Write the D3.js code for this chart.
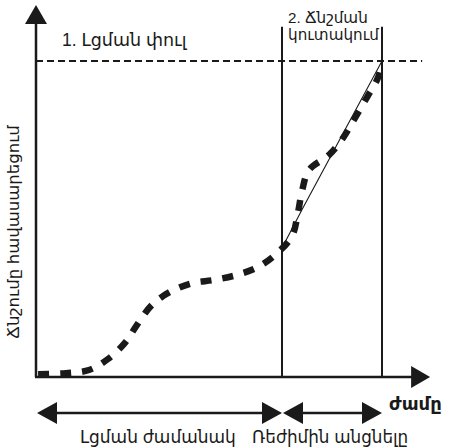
<!DOCTYPE html>
<html>
<head>
<meta charset="utf-8">
<script src="https://cdn.jsdelivr.net/npm/d3@7"></script>
<style>
  html, body { margin: 0; padding: 0; background: #fff; }
  svg { display: block; }
  text { font-family: Arial, "Liberation Sans", "DejaVu Sans", sans-serif; fill: #1a1a1a; }
</style>
</head>
<body>
<svg id="chart" width="449" height="448"></svg>
<script>
// Pressure build-up over time (arbitrary units)
const curveTime     = [0.6, 8.7, 15.3, 20.8, 25.7, 29.2, 33.5, 38.7, 45.1, 51.4, 58.1, 64.2, 69.7, 74.0, 75.7, 76.9, 78.9, 84.7, 88.7, 92.2, 95.7, 98.8, 100];
const curvePressure = [0.9, 1.2, 2.2, 5.7, 10.8, 16.5, 22.8, 26.9, 29.7, 30.7, 32.3, 34.8, 39.2, 44.6, 51.9, 58.9, 65.5, 70.3, 75.6, 82.0, 88.6, 94.6, 99.7];

// Ideal straight accumulation during phase 2
const trendTime     = [71.1, 76.9, 100];
const trendPressure = [40.8, 53.0, 100];

// Phase boundaries and target pressure
const phaseBounds    = [71.1, 100];
const targetPressure = 100;

const phaseLabel1    = "1. Լցման փուլ";
const phaseLabel2    = ["2. Ճնշման", "կուտակում"];
const spanLabels     = ["Լցման ժամանակ", "Ռեժիմին անցնելը"];
const xAxisLabel     = "ժամը";
const yAxisLabel     = "Ճնշումը հավասարեցում";

const svg = d3.select("#chart");
const ink = "#1a1a1a";

const x = d3.scaleLinear().domain([0, 100]).range([36, 382]);
const y = d3.scaleLinear().domain([0, 100]).range([377, 61]);

const xMax = 113.9, yMax = 117.7;

// axes with arrowheads
svg.append("line").attr("x1", x(0)).attr("y1", y(0)).attr("x2", x(0)).attr("y2", y(yMax) + 16)
  .attr("stroke", ink).attr("stroke-width", 2.5);
svg.append("path")
  .attr("d", `M${x(0)},${y(yMax)} L${x(0) - 11},${y(yMax) + 19} L${x(0) + 11},${y(yMax) + 19} Z`)
  .attr("fill", ink);
svg.append("line").attr("x1", x(0) - 1).attr("y1", y(0)).attr("x2", x(xMax) - 16).attr("y2", y(0))
  .attr("stroke", ink).attr("stroke-width", 2.5);
svg.append("path")
  .attr("d", `M${x(xMax)},${y(0)} L${x(xMax) - 19},${y(0) - 11} L${x(xMax) - 19},${y(0) + 11} Z`)
  .attr("fill", ink);

// target pressure level
svg.append("line")
  .attr("x1", x(0)).attr("x2", x(111.6))
  .attr("y1", y(targetPressure)).attr("y2", y(targetPressure))
  .attr("stroke", ink).attr("stroke-width", 2).attr("stroke-dasharray", "7,4");

// phase boundaries
svg.selectAll("line.phase").data(phaseBounds).join("line")
  .attr("class", "phase")
  .attr("x1", d => x(d)).attr("x2", d => x(d))
  .attr("y1", y(0)).attr("y2", y(110.8))
  .attr("stroke", ink).attr("stroke-width", 2);

// trend line
const trendLine = d3.line().x(d => x(d[0])).y(d => y(d[1]));
svg.append("path")
  .attr("d", trendLine(d3.zip(trendTime, trendPressure)))
  .attr("fill", "none").attr("stroke", ink).attr("stroke-width", 1.1);

// measured pressure curve
const curveLine = d3.line().x(d => x(d[0])).y(d => y(d[1])).curve(d3.curveCatmullRom.alpha(0.5));
svg.append("path")
  .attr("d", curveLine(d3.zip(curveTime, curvePressure)))
  .attr("fill", "none").attr("stroke", ink).attr("stroke-width", 6.5)
  .attr("stroke-dasharray", "11,11");

// phase labels
svg.append("text").attr("x", 62).attr("y", 46).attr("font-size", 17.5).text(phaseLabel1);
svg.append("text").attr("x", x(phaseBounds[0]) + 6).attr("y", 23).attr("font-size", 15.2)
  .selectAll("tspan").data(phaseLabel2).join("tspan")
  .attr("x", x(phaseBounds[0]) + 6).attr("dy", (d, i) => i ? 17 : 0).text(d => d);

// axis labels
svg.append("text").attr("x", 389).attr("y", 410).attr("font-size", 18).attr("font-weight", "bold")
  .text(xAxisLabel);
svg.append("text").attr("transform", "translate(19,232) rotate(-90)")
  .attr("text-anchor", "middle").attr("font-size", 16.5).text(yAxisLabel);

// duration spans under the time axis
const spans = [[0, phaseBounds[0]], [phaseBounds[0], phaseBounds[1]]];
const spanY = 413;
spans.forEach(([a, b]) => {
  const xa = x(a) + 1, xb = x(b);
  svg.append("line").attr("x1", xa + 15).attr("x2", xb - 15).attr("y1", spanY).attr("y2", spanY)
    .attr("stroke", ink).attr("stroke-width", 2.5);
  svg.append("path").attr("d", `M${xa},${spanY} L${xa + 20},${spanY - 11} L${xa + 20},${spanY + 11} Z`).attr("fill", ink);
  svg.append("path").attr("d", `M${xb},${spanY} L${xb - 20},${spanY - 11} L${xb - 20},${spanY + 11} Z`).attr("fill", ink);
});
svg.append("text").attr("x", 80).attr("y", 443).attr("font-size", 17).text(spanLabels[0]);
svg.append("text").attr("x", 252).attr("y", 443).attr("font-size", 16.8).text(spanLabels[1]);
</script>
</body>
</html>
